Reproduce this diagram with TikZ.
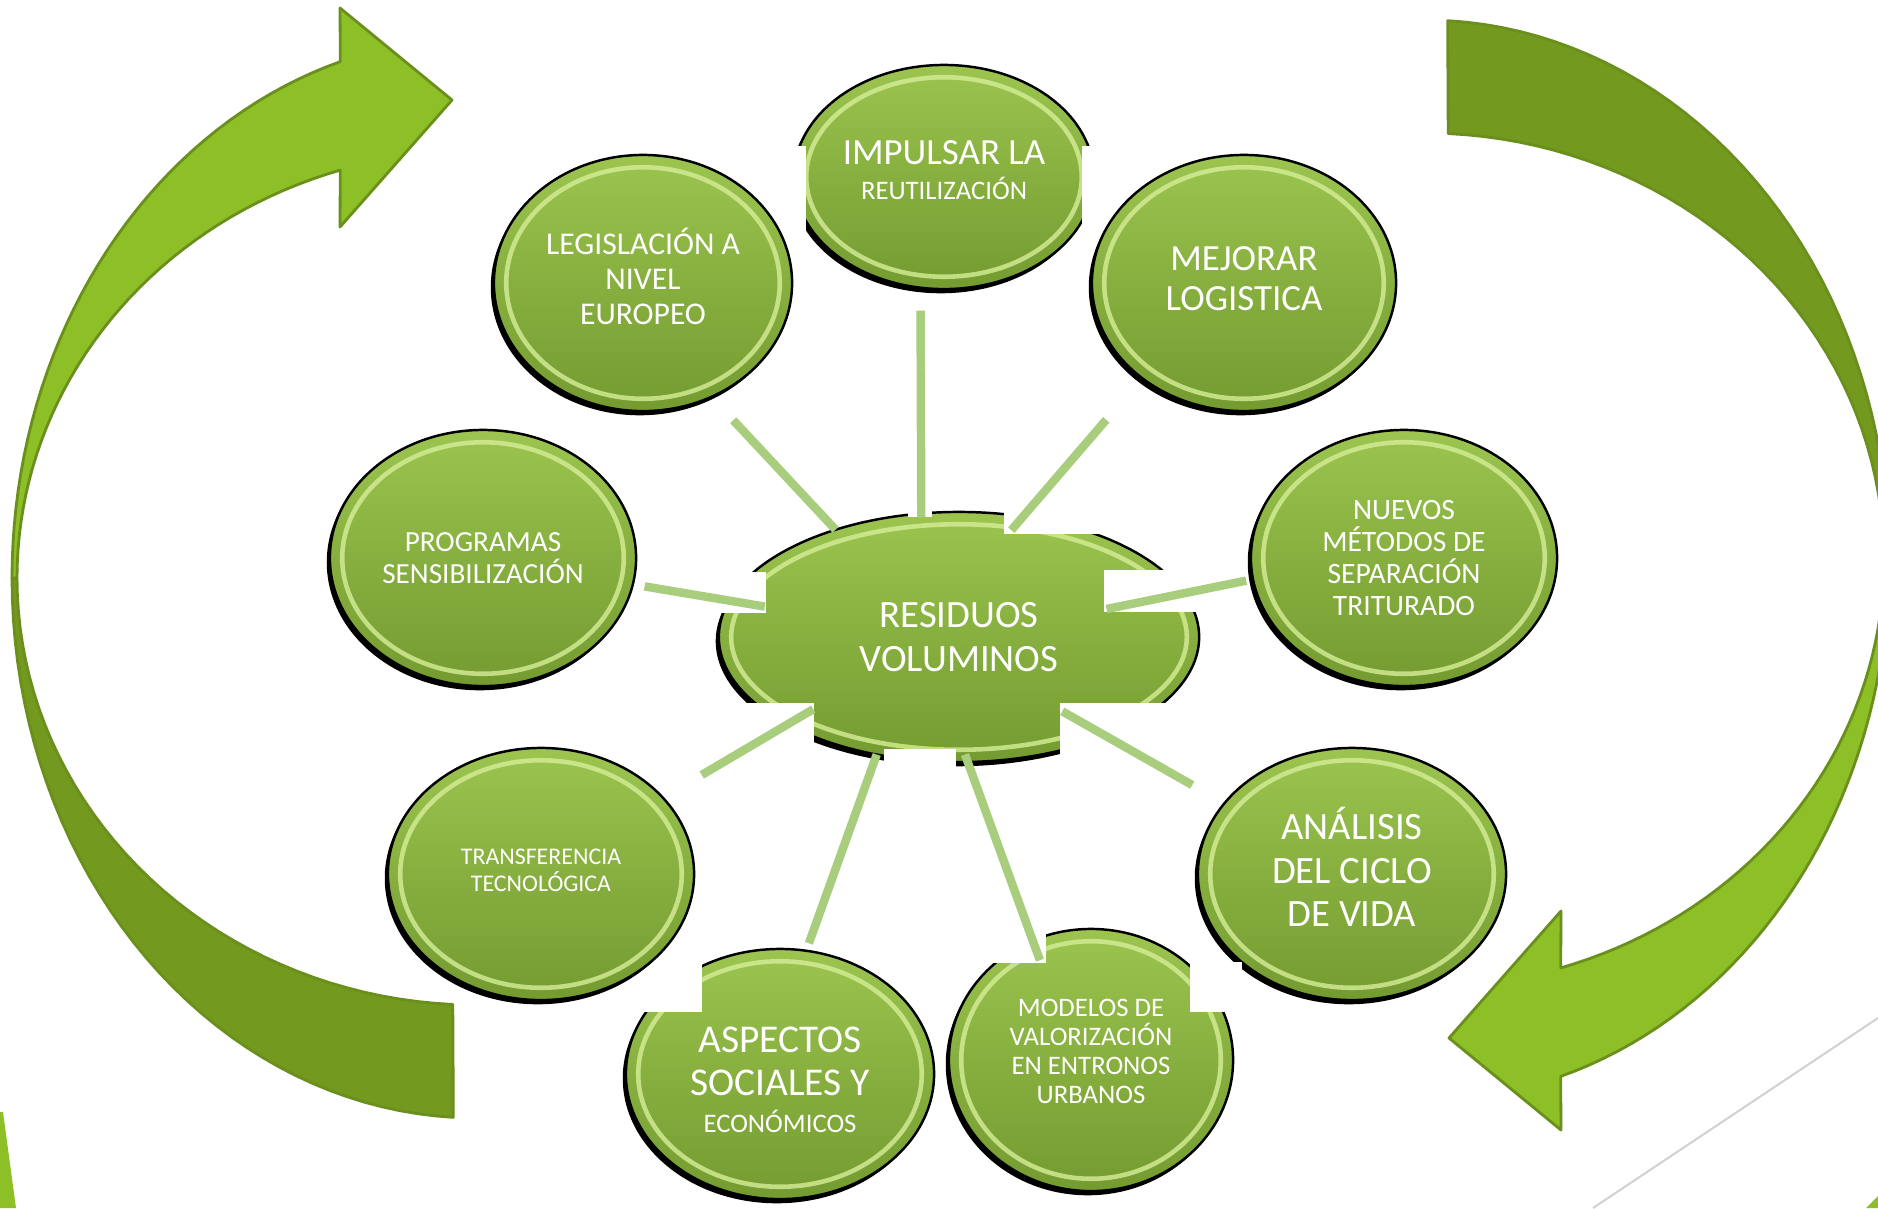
\documentclass[tikz,border=0pt]{standalone}
\usepackage{fontspec}
\setmainfont{Carlito}
\usepackage{tikz}
\usetikzlibrary{shapes.geometric, shadows, calc}

\definecolor{arrowlight}{HTML}{8DC026}
\definecolor{arrowdark}{HTML}{73991F}
\definecolor{arrowedge}{HTML}{6A8F1C}
\definecolor{bubtop}{HTML}{9CC44F}
\definecolor{bubmid}{HTML}{86AE3F}
\definecolor{bubbot}{HTML}{739B30}
\definecolor{bubrim}{HTML}{D6EE98}
\definecolor{spokegreen}{HTML}{A8CD7C}

\begin{document}
\begin{tikzpicture}
  [
    x=0.01cm, y=-0.01cm,
    bubble/.style={ellipse, draw=black, line width=0.7pt, top color=bubtop, middle color=bubmid, bottom color=bubbot, text=white, align=center, inner sep=0pt, outer sep=0pt, drop shadow={shadow xshift=-0.9pt, shadow yshift=-1.2pt, opacity=1, fill=black}},
    rim/.style={draw=bubrim, line width=1.3pt, opacity=0.8},
    notch/.style={fill=white},
    spoke/.style={draw=spokegreen, line width=2.4pt},
    band/.style={draw=arrowedge, line width=0.8pt, line join=round}
  ]
  \fill[white] (0,0) rectangle (1878,1208);
  \useasboundingbox (0,0) rectangle (1878,1208);
  \clip (0,0) rectangle (1878,1208);

  % Arrows
  \foreach \r in {0,180}{
    \begin{scope}[rotate around={\r:(950.5,569)}]
      \filldraw[band, fill=arrowdark] plot[domain=180:92.8, samples=40] ({476+464*cos(\x)}, {578+540*sin(\x)})
        -- plot[domain=92.9:180, samples=40] ({476+459*cos(\x)}, {578+427*sin(\x)}) -- cycle;
      \filldraw[band, fill=arrowlight] plot[domain=180:253, samples=40] ({476+464*cos(\x)}, {578+540*sin(\x)})
        -- (340,8) -- (452,100) -- (340,227)
        -- plot[domain=252.8:180, samples=40] ({476+459*cos(\x)}, {578+427*sin(\x)}) -- cycle;
    \end{scope}
  }
  \draw[gray!35, line width=0.6pt] (1878,1018) -- (1593,1208);
  \fill[arrowlight] (0,1112) -- (3,1112) -- (16,1208) -- (0,1208) -- cycle;
  \fill[arrowlight] (1866,1208) -- (1878,1196) -- (1878,1208) -- cycle;

  % Nodes
  \node[bubble, minimum width=4.80cm, minimum height=2.50cm, font=\fontsize{11}{12.3}\selectfont] (hub) at (959,637) {RESIDUOS\\VOLUMINOS};
  \node[bubble, minimum width=3.08cm, minimum height=2.50cm, text height=33.4pt, font=\fontsize{11.2}{12.3}\selectfont] (asp) at (780,1074) {ASPECTOS\\SOCIALES Y\\[-1.7pt]{\fontsize{7.6}{7.6}\selectfont ECONÓMICOS}};
  \foreach \b in {hub,asp}
    \draw[rim] let \p0=(\b.center), \p1=(\b.east), \p2=(\b.north) in
      (\p0) ellipse [x radius={\x1-\x0-3.5pt}, y radius={\y2-\y0-3.5pt}];
  \fill[notch] (600,930) rectangle (702,1012);

  \node[bubble, minimum width=3.06cm, minimum height=2.52cm, text depth=2pt, font=\fontsize{6.8}{7.8}\selectfont] (tra) at (541,874) {TRANSFERENCIA\\TECNOLÓGICA};
  \node[bubble, minimum width=3.06cm, minimum height=2.56cm, font=\fontsize{8.3}{9.2}\selectfont] (pro) at (483,558) {PROGRAMAS\\SENSIBILIZACIÓN};
  \node[bubble, minimum width=2.98cm, minimum height=2.56cm, text depth=4pt, font=\fontsize{9}{9.9}\selectfont] (leg) at (643,283) {LEGISLACIÓN A\\NIVEL\\EUROPEO};
  \node[bubble, minimum width=3.00cm, minimum height=2.24cm, text depth=4pt, font=\fontsize{7.6}{9.7}\selectfont] (imp) at (944,177) {{\fontsize{10.5}{10.5}\selectfont IMPULSAR LA}\\REUTILIZACIÓN};
  \node[bubble, minimum width=3.04cm, minimum height=2.56cm, text depth=2.7pt, font=\fontsize{10.5}{11.3}\selectfont] (mej) at (1244,283) {MEJORAR\\LOGISTICA};
  \node[bubble, minimum width=3.06cm, minimum height=2.56cm, font=\fontsize{8.4}{9.1}\selectfont] (nue) at (1404,558) {NUEVOS\\MÉTODOS DE\\SEPARACIÓN\\TRITURADO};
  \node[bubble, minimum width=3.08cm, minimum height=2.52cm, text depth=4pt, font=\fontsize{11}{12.3}\selectfont] (ana) at (1352,874) {ANÁLISIS\\DEL CICLO\\DE VIDA};
  \node[bubble, minimum width=2.84cm, minimum height=2.62cm, text depth=4.8pt, font=\fontsize{7.6}{8.2}\selectfont] (mod) at (1091,1060) {MODELOS DE\\VALORIZACIÓN\\EN ENTRONOS\\URBANOS};

  \foreach \b in {tra,pro,leg,imp,mej,nue,ana,mod}
    \draw[rim] let \p0=(\b.center), \p1=(\b.east), \p2=(\b.north) in
      (\p0) ellipse [x radius={\x1-\x0-3.5pt}, y radius={\y2-\y0-3.5pt}];

  % cut-outs
  \fill[notch] (690,572) rectangle (766,613);
  \fill[notch] (908,500) rectangle (932,517);
  \fill[notch] (1004,495) rectangle (1120,534);
  \fill[notch] (1104,570) rectangle (1215,612);
  \fill[notch] (700,703) rectangle (814,775);
  \fill[notch] (884,749) rectangle (956,775);
  \fill[notch] (1060,703) rectangle (1215,775);
  \fill[notch] (786,146) rectangle (806,237);
  \fill[notch] (1082,146) rectangle (1098,230);
  \fill[notch] (940,915) rectangle (1046,963);
  \fill[notch] (1190,962) rectangle (1242,1012);

  % Lines
  \draw[spoke, shorten <=0cm, shorten >=0.32cm] (hub.139) -- (leg.301);
  \draw[spoke, shorten <=-0.04cm, shorten >=0.23cm] (hub.107) -- (imp.258);
  \draw[spoke, shorten <=-0.18cm, shorten >=0.55cm] (hub.62) -- (mej.223);
  \draw[spoke, shorten <=-0.79cm, shorten >=0.07cm] (hub.11) -- (nue.188);
  \draw[spoke, shorten <=-0.50cm, shorten >=0.37cm] (hub.326) -- (ana.151);
  \draw[spoke, shorten <=-0.08cm, shorten >=-0.21cm] (hub.274) -- (mod.116);
  \draw[spoke, shorten <=0cm, shorten >=0.08cm] (hub.235) -- (asp.78);
  \draw[spoke, shorten <=-0.30cm, shorten >=0.45cm] (hub.207) -- (tra.32);
  \draw[spoke, shorten <=-0.36cm, shorten >=0.12cm] (hub.171) -- (pro.350);

\end{tikzpicture}
\end{document}
